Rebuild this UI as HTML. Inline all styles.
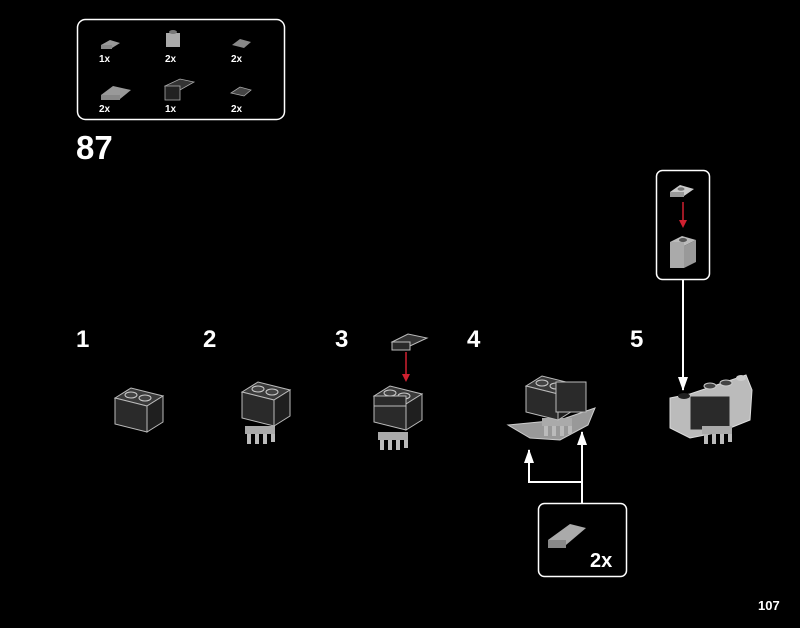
<!DOCTYPE html>
<html><head><meta charset="utf-8"><style>
html,body{margin:0;padding:0;background:#000;}
svg{display:block}
text{font-family:"Liberation Sans",sans-serif;font-weight:bold;fill:#fff}
</style></head><body>
<svg width="800" height="628" viewBox="0 0 800 628" xmlns="http://www.w3.org/2000/svg">
<defs>
<marker id="aw" markerWidth="14" markerHeight="10" refX="13" refY="5" orient="auto" markerUnits="userSpaceOnUse"><path d="M0,0 L14,5 L0,10 Z" fill="#fff"/></marker>
<g id="brick">
 <polygon points="0,8 32,16 48,6 16,-2" fill="#3a3a3a" stroke="#bbb" stroke-width="1"/>
 <polygon points="0,8 32,16 32,42 0,34" fill="#2a2a2a" stroke="#bbb" stroke-width="1"/>
 <polygon points="32,16 48,6 48,32 32,42" fill="#1f1f1f" stroke="#bbb" stroke-width="1"/>
 <ellipse cx="16" cy="5" rx="6" ry="3" fill="#444" stroke="#ccc"/>
 <ellipse cx="30" cy="8" rx="6" ry="3" fill="#444" stroke="#ccc"/>
</g>
<g id="clips">
 <rect x="2" y="34" width="30" height="8" fill="#aaa"/>
 <path d="M6,42 v10 M14,42 v10 M22,42 v10 M30,42 v8" stroke="#bbb" stroke-width="4"/>
</g>
</defs>

<rect x="77.5" y="19.5" width="207" height="100" rx="8" fill="none" stroke="#fff" stroke-width="1.5"/>
<g font-size="10">
<text x="99" y="62">1x</text><text x="165" y="62">2x</text><text x="231" y="62">2x</text>
<text x="99" y="112">2x</text><text x="165" y="112">1x</text><text x="231" y="112">2x</text>
</g>
<polygon points="101,45 112,48 120,43 110,40" fill="#999"/><rect x="101" y="45" width="11" height="4" fill="#888"/>
<rect x="166" y="33" width="14" height="14" fill="#aaa"/><ellipse cx="173" cy="32" rx="4" ry="2" fill="#777"/>
<polygon points="232,45 244,48 251,42 240,39" fill="#888"/>
<polygon points="101,95 120,99 131,90 113,86" fill="#999"/><rect x="101" y="95" width="19" height="5" fill="#888"/>
<polygon points="165,86 180,90 194,82 180,79" fill="#333" stroke="#aaa" stroke-width="0.8"/><rect x="165" y="86" width="15" height="14" fill="#222" stroke="#aaa" stroke-width="0.8"/>
<polygon points="231,93 244,96 251,90 240,87" fill="#444" stroke="#aaa" stroke-width="0.8"/>

<text x="76" y="159" font-size="33">87</text>

<g font-size="24">
<text x="76" y="347">1</text><text x="203" y="347">2</text><text x="335" y="347">3</text><text x="467" y="347">4</text><text x="630" y="347">5</text>
</g>

<use href="#brick" x="115" y="390"/>
<use href="#clips" x="243" y="392"/>
<use href="#brick" x="242" y="384"/>
<use href="#clips" x="376" y="398"/>
<use href="#brick" x="374" y="388"/>
<rect x="374" y="396" width="32" height="10" fill="#2a2a2a" stroke="#bbb"/>
<polygon points="392,342 410,346 427,338 408,334" fill="#333" stroke="#bbb"/>
<rect x="392" y="342" width="18" height="8" fill="#2a2a2a" stroke="#bbb"/>
<line x1="406" y1="352" x2="406" y2="376" stroke="#d02030" stroke-width="1.5"/>
<polygon points="402,374 410,374 406,382" fill="#d02030"/>
<polygon points="508,425 530,438 560,440 588,425 595,408 560,420" fill="#999" stroke="#ccc"/>
<use href="#clips" x="540" y="384"/>
<use href="#brick" x="526" y="378"/>
<rect x="556" y="382" width="30" height="30" fill="#2a2a2a" stroke="#bbb"/>
<polygon points="670,398 690,394 746,375 752,390 750,420 720,432 690,438 670,428" fill="#bbb" stroke="#ddd"/>
<rect x="690" y="396" width="40" height="34" fill="#2a2a2a" stroke="#bbb"/>
<use href="#clips" x="700" y="392"/>
<ellipse cx="684" cy="396" rx="6" ry="3" fill="#222"/>
<ellipse cx="710" cy="386" rx="6" ry="3" fill="#444" stroke="#ccc"/>
<ellipse cx="726" cy="383" rx="6" ry="3" fill="#444" stroke="#ccc"/>
<ellipse cx="741" cy="378" rx="5" ry="3" fill="#ccc"/>

<rect x="656.5" y="170.5" width="53" height="109" rx="6" fill="none" stroke="#fff" stroke-width="1.5"/>
<polygon points="670,192 684,196 694,189 680,185" fill="#ccc"/><rect x="670" y="192" width="14" height="5" fill="#999"/>
<ellipse cx="681" cy="189" rx="3.5" ry="1.8" fill="#777"/>
<line x1="683" y1="202" x2="683" y2="222" stroke="#d02030" stroke-width="1.5"/>
<polygon points="679,220 687,220 683,228" fill="#d02030"/>
<polygon points="670,242 684,246 696,240 682,236" fill="#bbb"/>
<rect x="670" y="242" width="14" height="26" fill="#aaa"/>
<polygon points="684,246 696,240 696,262 684,268" fill="#999"/>
<ellipse cx="683" cy="240" rx="4" ry="2" fill="#555"/>
<line x1="683" y1="280" x2="683" y2="390" stroke="#fff" stroke-width="2" marker-end="url(#aw)"/>

<rect x="538.5" y="503.5" width="88" height="73" rx="6" fill="none" stroke="#fff" stroke-width="1.5"/>
<polygon points="548,540 566,545 586,528 570,524" fill="#aaa"/><rect x="548" y="540" width="18" height="8" fill="#888"/>
<text x="590" y="567" font-size="20">2x</text>
<path d="M582,503 V432" stroke="#fff" stroke-width="2" fill="none" marker-end="url(#aw)"/>
<path d="M582,482 H529 V450" stroke="#fff" stroke-width="2" fill="none" marker-end="url(#aw)"/>

<text x="758" y="610" font-size="13">107</text>
</svg>
</body></html>
